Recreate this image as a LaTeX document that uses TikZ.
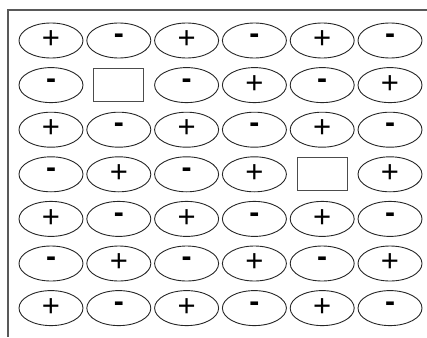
\documentclass[tikz,border=0pt]{standalone}
\usepackage{fontspec}
\newfontfamily\lib{Liberation Sans}
\usetikzlibrary{shapes.geometric}
\begin{document}
\begin{tikzpicture}[x=1pt,y=-1pt,
  cell/.style={draw=black!85,line width=0.9pt,ellipse,minimum width=64pt,minimum height=35pt,inner sep=0pt,font=\lib\fontsize{31}{31}\selectfont},
  sq/.style={draw=black!70,line width=1pt,rectangle,minimum width=50pt,minimum height=33pt,inner sep=0pt},
  frame/.style={draw=black!65,line width=1.6pt}]
\useasboundingbox (0,0) rectangle (427,337);
\coordinate (tl) at (8,10);
\coordinate (tr) at (427,10);
\coordinate (bl) at (8,337);
\draw[frame] (tr) -- (tl) -- (bl);
\def\plus{P}\def\sqr{S}
\foreach \row [count=\r from 0] in {{P,M,P,M,P,M},{M,S,M,P,M,P},{P,M,P,M,P,M},{M,P,M,P,S,P},{P,M,P,M,P,M},{M,P,M,P,M,P},{P,M,P,M,P,M}}{
  \foreach \s [count=\c from 0] in \row {
    \pgfmathsetmacro{\cx}{51+67.8*\c}
    \pgfmathsetmacro{\cy}{40.5+44.6*\r}
    \edef\t{\s}
    \ifx\t\sqr
      \node[sq] (e\r\c) at (\cx,\cy) {};
    \else\ifx\t\plus
      \node[cell] (e\r\c) at (\cx,\cy) {\raisebox{0.1ex}{+}};
    \else
      \node[cell] (e\r\c) at (\cx,\cy) {\raisebox{0.2ex}{\bfseries\fontsize{30}{30}\selectfont -}};
    \fi\fi
  }
}
\end{tikzpicture}
\end{document}
